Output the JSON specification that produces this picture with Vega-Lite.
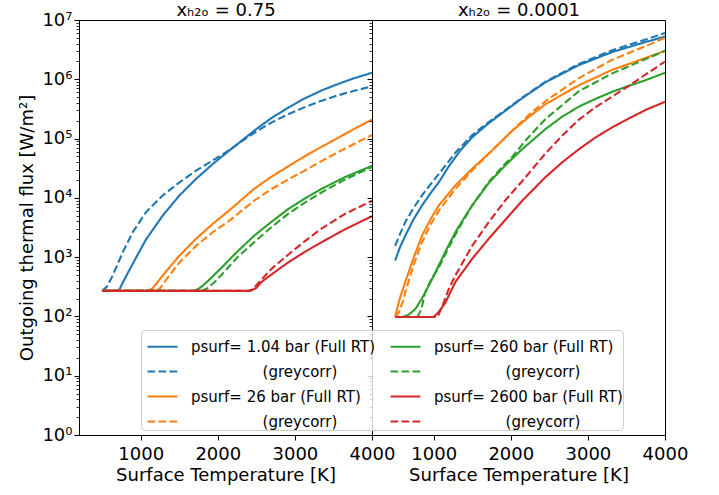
{
  "$schema": "https://vega.github.io/schema/vega-lite/v6.json",
  "padding": {"left": 18, "top": 0, "right": 5, "bottom": 5},
  "spacing": 0,
  "bounds": "flush",
  "config": {
    "font": "DejaVu Sans",
    "view": {"stroke": "black", "strokeWidth": 1},
    "axis": {"grid": false, "domainColor": "black", "tickColor": "black", "labelColor": "black", "titleColor": "black", "labelFontSize": 18, "titleFontSize": 18, "titleFontWeight": "normal", "labelFlush": false, "labelOverlap": false}
  },
  "data": {"values": [
    {"p":"A","s":"b1","T":500,"F":270},{"p":"A","s":"b1","T":680,"F":270},{"p":"A","s":"b1","T":700,"F":272},{"p":"A","s":"b1","T":724,"F":282},{"p":"A","s":"b1","T":767,"F":372},{"p":"A","s":"b1","T":853,"F":603},{"p":"A","s":"b1","T":960,"F":1096},{"p":"A","s":"b1","T":1070,"F":1995},{"p":"A","s":"b1","T":1285,"F":5012},{"p":"A","s":"b1","T":1502,"F":10965},{"p":"A","s":"b1","T":1718,"F":20893},{"p":"A","s":"b1","T":1934,"F":37154},{"p":"A","s":"b1","T":2150,"F":63096},{"p":"A","s":"b1","T":2306,"F":91201},{"p":"A","s":"b1","T":2479,"F":138038},{"p":"A","s":"b1","T":2700,"F":223872},{"p":"A","s":"b1","T":2912,"F":331131},{"p":"A","s":"b1","T":3084,"F":446684},{"p":"A","s":"b1","T":3344,"F":645654},{"p":"A","s":"b1","T":3517,"F":794328},{"p":"A","s":"b1","T":3750,"F":1023293},{"p":"A","s":"b1","T":4000,"F":1288250},
    {"p":"A","s":"b2","T":500,"F":270},{"p":"A","s":"b2","T":560,"F":316},{"p":"A","s":"b2","T":637,"F":490},{"p":"A","s":"b2","T":767,"F":1202},{"p":"A","s":"b2","T":896,"F":2630},{"p":"A","s":"b2","T":1070,"F":5754},{"p":"A","s":"b2","T":1285,"F":10965},{"p":"A","s":"b2","T":1502,"F":18197},{"p":"A","s":"b2","T":1718,"F":28840},{"p":"A","s":"b2","T":1934,"F":42658},{"p":"A","s":"b2","T":2108,"F":58884},{"p":"A","s":"b2","T":2306,"F":89125},{"p":"A","s":"b2","T":2500,"F":131826},{"p":"A","s":"b2","T":2695,"F":186209},{"p":"A","s":"b2","T":2912,"F":257040},{"p":"A","s":"b2","T":3127,"F":338844},{"p":"A","s":"b2","T":3350,"F":436516},{"p":"A","s":"b2","T":3560,"F":537032},{"p":"A","s":"b2","T":3780,"F":645654},{"p":"A","s":"b2","T":4000,"F":758578},
    {"p":"A","s":"o1","T":500,"F":270},{"p":"A","s":"o1","T":1100,"F":270},{"p":"A","s":"o1","T":1156,"F":299},{"p":"A","s":"o1","T":1220,"F":380},{"p":"A","s":"o1","T":1285,"F":490},{"p":"A","s":"o1","T":1502,"F":1059},{"p":"A","s":"o1","T":1718,"F":2042},{"p":"A","s":"o1","T":1934,"F":3631},{"p":"A","s":"o1","T":2150,"F":6166},{"p":"A","s":"o1","T":2479,"F":14454},{"p":"A","s":"o1","T":2700,"F":22909},{"p":"A","s":"o1","T":2912,"F":33884},{"p":"A","s":"o1","T":3100,"F":47863},{"p":"A","s":"o1","T":3300,"F":67608},{"p":"A","s":"o1","T":3517,"F":95499},{"p":"A","s":"o1","T":3750,"F":141254},{"p":"A","s":"o1","T":4000,"F":208930},
    {"p":"A","s":"o2","T":500,"F":270},{"p":"A","s":"o2","T":1200,"F":270},{"p":"A","s":"o2","T":1242,"F":288},{"p":"A","s":"o2","T":1300,"F":363},{"p":"A","s":"o2","T":1372,"F":490},{"p":"A","s":"o2","T":1502,"F":813},{"p":"A","s":"o2","T":1718,"F":1549},{"p":"A","s":"o2","T":1934,"F":2630},{"p":"A","s":"o2","T":2150,"F":4121},{"p":"A","s":"o2","T":2479,"F":9120},{"p":"A","s":"o2","T":2700,"F":14125},{"p":"A","s":"o2","T":2912,"F":20417},{"p":"A","s":"o2","T":3127,"F":28840},{"p":"A","s":"o2","T":3344,"F":41687},{"p":"A","s":"o2","T":3603,"F":63096},{"p":"A","s":"o2","T":3800,"F":85114},{"p":"A","s":"o2","T":4000,"F":114815},
    {"p":"A","s":"g1","T":500,"F":270},{"p":"A","s":"g1","T":1690,"F":270},{"p":"A","s":"g1","T":1760,"F":295},{"p":"A","s":"g1","T":1874,"F":398},{"p":"A","s":"g1","T":2047,"F":661},{"p":"A","s":"g1","T":2250,"F":1230},{"p":"A","s":"g1","T":2479,"F":2344},{"p":"A","s":"g1","T":2700,"F":3981},{"p":"A","s":"g1","T":2912,"F":6457},{"p":"A","s":"g1","T":3130,"F":9772},{"p":"A","s":"g1","T":3344,"F":14125},{"p":"A","s":"g1","T":3650,"F":22387},{"p":"A","s":"g1","T":4000,"F":34674},
    {"p":"A","s":"g2","T":500,"F":270},{"p":"A","s":"g2","T":1787,"F":270},{"p":"A","s":"g2","T":1860,"F":295},{"p":"A","s":"g2","T":1960,"F":380},{"p":"A","s":"g2","T":2047,"F":501},{"p":"A","s":"g2","T":2250,"F":977},{"p":"A","s":"g2","T":2479,"F":1820},{"p":"A","s":"g2","T":2700,"F":3236},{"p":"A","s":"g2","T":2912,"F":5370},{"p":"A","s":"g2","T":3130,"F":8318},{"p":"A","s":"g2","T":3344,"F":12303},{"p":"A","s":"g2","T":3650,"F":20417},{"p":"A","s":"g2","T":4000,"F":33113},
    {"p":"A","s":"r1","T":500,"F":270},{"p":"A","s":"r1","T":2420,"F":270},{"p":"A","s":"r1","T":2500,"F":302},{"p":"A","s":"r1","T":2565,"F":380},{"p":"A","s":"r1","T":2740,"F":562},{"p":"A","s":"r1","T":2912,"F":813},{"p":"A","s":"r1","T":3130,"F":1230},{"p":"A","s":"r1","T":3344,"F":1778},{"p":"A","s":"r1","T":3650,"F":2951},{"p":"A","s":"r1","T":4000,"F":4898},
    {"p":"A","s":"r2","T":500,"F":270},{"p":"A","s":"r2","T":2400,"F":270},{"p":"A","s":"r2","T":2460,"F":288},{"p":"A","s":"r2","T":2522,"F":363},{"p":"A","s":"r2","T":2695,"F":631},{"p":"A","s":"r2","T":2912,"F":1096},{"p":"A","s":"r2","T":3130,"F":1862},{"p":"A","s":"r2","T":3344,"F":3020},{"p":"A","s":"r2","T":3650,"F":5370},{"p":"A","s":"r2","T":4000,"F":8913},
    {"p":"B","s":"b1","T":500,"F":871},{"p":"B","s":"b1","T":560,"F":1445},{"p":"B","s":"b1","T":631,"F":2291},{"p":"B","s":"b1","T":740,"F":4365},{"p":"B","s":"b1","T":848,"F":7413},{"p":"B","s":"b1","T":960,"F":12023},{"p":"B","s":"b1","T":1065,"F":18197},{"p":"B","s":"b1","T":1195,"F":33884},{"p":"B","s":"b1","T":1346,"F":63096},{"p":"B","s":"b1","T":1498,"F":104713},{"p":"B","s":"b1","T":1714,"F":181970},{"p":"B","s":"b1","T":1930,"F":295121},{"p":"B","s":"b1","T":2147,"F":478630},{"p":"B","s":"b1","T":2450,"F":891251},{"p":"B","s":"b1","T":2884,"F":1737801},{"p":"B","s":"b1","T":3316,"F":2884032},{"p":"B","s":"b1","T":3749,"F":4265795},{"p":"B","s":"b1","T":4000,"F":5248075},
    {"p":"B","s":"b2","T":500,"F":1549},{"p":"B","s":"b2","T":560,"F":2399},{"p":"B","s":"b2","T":631,"F":3890},{"p":"B","s":"b2","T":740,"F":6761},{"p":"B","s":"b2","T":848,"F":10965},{"p":"B","s":"b2","T":960,"F":16982},{"p":"B","s":"b2","T":1065,"F":25119},{"p":"B","s":"b2","T":1281,"F":57544},{"p":"B","s":"b2","T":1500,"F":114815},{"p":"B","s":"b2","T":1714,"F":190546},{"p":"B","s":"b2","T":1930,"F":301995},{"p":"B","s":"b2","T":2147,"F":489779},{"p":"B","s":"b2","T":2450,"F":912011},{"p":"B","s":"b2","T":2884,"F":1819701},{"p":"B","s":"b2","T":3316,"F":3090295},{"p":"B","s":"b2","T":3749,"F":4677351},{"p":"B","s":"b2","T":4000,"F":6025596},
    {"p":"B","s":"o1","T":500,"F":100},{"p":"B","s":"o1","T":560,"F":200},{"p":"B","s":"o1","T":631,"F":380},{"p":"B","s":"o1","T":740,"F":977},{"p":"B","s":"o1","T":848,"F":2291},{"p":"B","s":"o1","T":960,"F":4365},{"p":"B","s":"o1","T":1065,"F":7413},{"p":"B","s":"o1","T":1281,"F":16218},{"p":"B","s":"o1","T":1498,"F":30903},{"p":"B","s":"o1","T":1757,"F":63096},{"p":"B","s":"o1","T":2017,"F":134896},{"p":"B","s":"o1","T":2250,"F":239883},{"p":"B","s":"o1","T":2450,"F":380189},{"p":"B","s":"o1","T":2884,"F":794328},{"p":"B","s":"o1","T":3316,"F":1445440},{"p":"B","s":"o1","T":3749,"F":2290868},{"p":"B","s":"o1","T":4000,"F":3019952},
    {"p":"B","s":"o2","T":500,"F":100},{"p":"B","s":"o2","T":545,"F":115},{"p":"B","s":"o2","T":600,"F":178},{"p":"B","s":"o2","T":631,"F":257},{"p":"B","s":"o2","T":740,"F":741},{"p":"B","s":"o2","T":848,"F":1778},{"p":"B","s":"o2","T":960,"F":3548},{"p":"B","s":"o2","T":1065,"F":6026},{"p":"B","s":"o2","T":1281,"F":14125},{"p":"B","s":"o2","T":1498,"F":28840},{"p":"B","s":"o2","T":1757,"F":63096},{"p":"B","s":"o2","T":2017,"F":134896},{"p":"B","s":"o2","T":2250,"F":263027},{"p":"B","s":"o2","T":2450,"F":426580},{"p":"B","s":"o2","T":2884,"F":1047129},{"p":"B","s":"o2","T":3316,"F":2137962},{"p":"B","s":"o2","T":3749,"F":3630781},{"p":"B","s":"o2","T":4000,"F":5011872},
    {"p":"B","s":"g1","T":500,"F":98},{"p":"B","s":"g1","T":600,"F":98},{"p":"B","s":"g1","T":675,"F":107},{"p":"B","s":"g1","T":760,"F":132},{"p":"B","s":"g1","T":848,"F":200},{"p":"B","s":"g1","T":960,"F":380},{"p":"B","s":"g1","T":1065,"F":724},{"p":"B","s":"g1","T":1170,"F":1380},{"p":"B","s":"g1","T":1281,"F":2630},{"p":"B","s":"g1","T":1390,"F":4467},{"p":"B","s":"g1","T":1498,"F":7413},{"p":"B","s":"g1","T":1714,"F":17783},{"p":"B","s":"g1","T":1930,"F":35481},{"p":"B","s":"g1","T":2147,"F":66069},{"p":"B","s":"g1","T":2450,"F":144544},{"p":"B","s":"g1","T":2667,"F":234423},{"p":"B","s":"g1","T":2884,"F":346737},{"p":"B","s":"g1","T":3100,"F":467735},{"p":"B","s":"g1","T":3316,"F":616595},{"p":"B","s":"g1","T":3533,"F":776247},{"p":"B","s":"g1","T":3749,"F":966051},{"p":"B","s":"g1","T":4000,"F":1288250},
    {"p":"B","s":"g2","T":500,"F":98},{"p":"B","s":"g2","T":790,"F":98},{"p":"B","s":"g2","T":840,"F":132},{"p":"B","s":"g2","T":891,"F":257},{"p":"B","s":"g2","T":960,"F":398},{"p":"B","s":"g2","T":1065,"F":661},{"p":"B","s":"g2","T":1170,"F":1259},{"p":"B","s":"g2","T":1281,"F":2399},{"p":"B","s":"g2","T":1390,"F":4266},{"p":"B","s":"g2","T":1498,"F":7413},{"p":"B","s":"g2","T":1714,"F":18621},{"p":"B","s":"g2","T":1930,"F":38019},{"p":"B","s":"g2","T":2017,"F":48978},{"p":"B","s":"g2","T":2200,"F":95499},{"p":"B","s":"g2","T":2450,"F":213796},{"p":"B","s":"g2","T":2884,"F":630957},{"p":"B","s":"g2","T":3316,"F":1258925},{"p":"B","s":"g2","T":3749,"F":2187762},{"p":"B","s":"g2","T":4000,"F":3019952},
    {"p":"B","s":"r1","T":500,"F":98},{"p":"B","s":"r1","T":1000,"F":98},{"p":"B","s":"r1","T":1060,"F":117},{"p":"B","s":"r1","T":1151,"F":170},{"p":"B","s":"r1","T":1281,"F":380},{"p":"B","s":"r1","T":1498,"F":933},{"p":"B","s":"r1","T":1714,"F":2042},{"p":"B","s":"r1","T":1930,"F":4266},{"p":"B","s":"r1","T":2147,"F":8913},{"p":"B","s":"r1","T":2450,"F":22387},{"p":"B","s":"r1","T":2667,"F":39811},{"p":"B","s":"r1","T":2884,"F":66069},{"p":"B","s":"r1","T":3100,"F":104713},{"p":"B","s":"r1","T":3316,"F":154882},{"p":"B","s":"r1","T":3533,"F":218776},{"p":"B","s":"r1","T":3760,"F":309030},{"p":"B","s":"r1","T":4000,"F":416869},
    {"p":"B","s":"r2","T":500,"F":98},{"p":"B","s":"r2","T":1050,"F":98},{"p":"B","s":"r2","T":1120,"F":158},{"p":"B","s":"r2","T":1195,"F":288},{"p":"B","s":"r2","T":1281,"F":490},{"p":"B","s":"r2","T":1498,"F":1549},{"p":"B","s":"r2","T":1714,"F":3890},{"p":"B","s":"r2","T":1930,"F":9120},{"p":"B","s":"r2","T":2147,"F":19055},{"p":"B","s":"r2","T":2450,"F":56234},{"p":"B","s":"r2","T":2667,"F":112202},{"p":"B","s":"r2","T":2884,"F":208930},{"p":"B","s":"r2","T":3100,"F":338844},{"p":"B","s":"r2","T":3316,"F":512861},{"p":"B","s":"r2","T":3533,"F":776247},{"p":"B","s":"r2","T":3760,"F":1230269},{"p":"B","s":"r2","T":4000,"F":1995262}
  ]},
  "hconcat": [
    {
      "width": 293, "height": 415,
      "transform": [{"filter": "datum.p == 'A'"}],
      "layer": [
        {
          "mark": {"type": "line", "strokeWidth": 2.1, "clip": true},
          "encoding": {
            "x": {"field": "T", "type": "quantitative", "scale": {"domain": [200, 4000], "nice": false, "zero": false},
                  "axis": {"title": "Surface Temperature [K]", "values": [1000, 2000, 3000, 4000], "format": "d", "tickSize": 5, "labelPadding": 5, "titlePadding": 3}},
            "y": {"field": "F", "type": "quantitative", "scale": {"type": "log", "domain": [1, 10000000], "nice": false},
                  "axis": {"title": "Outgoing thermal flux [W/m²]", "titlePadding": 5, "labelPadding": 2,
                           "values": [1,2,3,4,5,6,7,8,9,10,20,30,40,50,60,70,80,90,100,200,300,400,500,600,700,800,900,1000,2000,3000,4000,5000,6000,7000,8000,9000,10000,20000,30000,40000,50000,60000,70000,80000,90000,100000,200000,300000,400000,500000,600000,700000,800000,900000,1000000,2000000,3000000,4000000,5000000,6000000,7000000,8000000,9000000,10000000],
                           "labelExpr": "abs(log(datum.value)/LN10 - round(log(datum.value)/LN10)) < 0.001 ? '10' + ['⁰','¹','²','³','⁴','⁵','⁶','⁷'][round(log(datum.value)/LN10)] : ''",
                           "tickSize": {"condition": {"test": "abs(log(datum.value)/LN10 - round(log(datum.value)/LN10)) < 0.001", "value": 5}, "value": 3},
                           "tickWidth": {"condition": {"test": "abs(log(datum.value)/LN10 - round(log(datum.value)/LN10)) < 0.001", "value": 1.1}, "value": 0.8}}},
            "color": {"field": "s", "type": "nominal",
                      "scale": {"domain": ["b1","b2","o1","o2","g1","g2","r1","r2"], "range": ["#1f77b4","#1f77b4","#ff7f0e","#ff7f0e","#2ca02c","#2ca02c","#d62728","#d62728"]},
                      "legend": {"title": null, "orient": "none", "legendX": 62, "legendY": 310, "columns": 2, "symbolType": "stroke", "symbolSize": 900, "symbolStrokeWidth": 2.1, "symbolOffset": 5, "labelFontSize": 15, "labelLimit": 0, "labelOffset": 12, "padding": 0, "rowPadding": -7, "columnPadding": 8, "fillColor": "rgba(255,255,255,0.8)", "strokeColor": "#cccccc", "cornerRadius": 4,
                                 "labelExpr": "datum.value == 'b1' ? 'psurf= 1.04 bar (Full RT)' : datum.value == 'g1' ? 'psurf= 260 bar (Full RT)' : datum.value == 'o1' ? 'psurf= 26 bar (Full RT)' : datum.value == 'r1' ? 'psurf= 2600 bar (Full RT)' : '\u200b\u2007\u2007\u2007\u2007\u2007\u2007\u2007\u00a0(greycorr)'"}},
            "strokeDash": {"field": "s", "type": "nominal",
                      "scale": {"domain": ["b1","b2","o1","o2","g1","g2","r1","r2"], "range": [[1,0],[7.7,3.3],[1,0],[7.7,3.3],[1,0],[7.7,3.3],[1,0],[7.7,3.3]]},
                      "legend": {"title": null, "orient": "none", "legendX": 62, "legendY": 310, "columns": 2, "symbolType": "stroke", "symbolSize": 900, "symbolStrokeWidth": 2.1, "symbolOffset": 5, "labelFontSize": 15, "labelLimit": 0, "labelOffset": 12, "padding": 0, "rowPadding": -7, "columnPadding": 8, "fillColor": "rgba(255,255,255,0.8)", "strokeColor": "#cccccc", "cornerRadius": 4,
                                 "labelExpr": "datum.value == 'b1' ? 'psurf= 1.04 bar (Full RT)' : datum.value == 'g1' ? 'psurf= 260 bar (Full RT)' : datum.value == 'o1' ? 'psurf= 26 bar (Full RT)' : datum.value == 'r1' ? 'psurf= 2600 bar (Full RT)' : '\u200b\u2007\u2007\u2007\u2007\u2007\u2007\u2007\u00a0(greycorr)'"}}
          }
        },
        {
          "mark": {"type": "rule", "opacity": 0},
          "encoding": {
            "x": {"field": "T", "type": "quantitative", "scale": {"domain": [200, 4000], "nice": false, "zero": false},
                  "axis": {"orient": "top", "title": "xₕ₂ₒ =  0.75", "labels": false, "ticks": false, "domain": false, "titlePadding": 1}}
          }
        }
      ],
      "resolve": {"axis": {"x": "independent"}}
    },
    {
      "width": 293, "height": 415,
      "transform": [{"filter": "datum.p == 'B'"}],
      "layer": [
        {
          "mark": {"type": "line", "strokeWidth": 2.1, "clip": true},
          "encoding": {
            "x": {"field": "T", "type": "quantitative", "scale": {"domain": [200, 4000], "nice": false, "zero": false},
                  "axis": {"title": "Surface Temperature [K]", "values": [1000, 2000, 3000, 4000], "format": "d", "tickSize": 5, "labelPadding": 5, "titlePadding": 3}},
            "y": {"field": "F", "type": "quantitative", "scale": {"type": "log", "domain": [1, 10000000], "nice": false},
                  "axis": {"title": null, "labels": false,
                           "values": [1,2,3,4,5,6,7,8,9,10,20,30,40,50,60,70,80,90,100,200,300,400,500,600,700,800,900,1000,2000,3000,4000,5000,6000,7000,8000,9000,10000,20000,30000,40000,50000,60000,70000,80000,90000,100000,200000,300000,400000,500000,600000,700000,800000,900000,1000000,2000000,3000000,4000000,5000000,6000000,7000000,8000000,9000000,10000000],
                           "tickSize": {"condition": {"test": "abs(log(datum.value)/LN10 - round(log(datum.value)/LN10)) < 0.001", "value": 5}, "value": 3},
                           "tickWidth": {"condition": {"test": "abs(log(datum.value)/LN10 - round(log(datum.value)/LN10)) < 0.001", "value": 1.1}, "value": 0.8}}},
            "color": {"field": "s", "type": "nominal",
                      "scale": {"domain": ["b1","b2","o1","o2","g1","g2","r1","r2"], "range": ["#1f77b4","#1f77b4","#ff7f0e","#ff7f0e","#2ca02c","#2ca02c","#d62728","#d62728"]},
                      "legend": {"title": null, "orient": "none", "legendX": 62, "legendY": 310, "columns": 2, "symbolType": "stroke", "symbolSize": 900, "symbolStrokeWidth": 2.1, "symbolOffset": 5, "labelFontSize": 15, "labelLimit": 0, "labelOffset": 12, "padding": 0, "rowPadding": -7, "columnPadding": 8, "fillColor": "rgba(255,255,255,0.8)", "strokeColor": "#cccccc", "cornerRadius": 4,
                                 "labelExpr": "datum.value == 'b1' ? 'psurf= 1.04 bar (Full RT)' : datum.value == 'g1' ? 'psurf= 260 bar (Full RT)' : datum.value == 'o1' ? 'psurf= 26 bar (Full RT)' : datum.value == 'r1' ? 'psurf= 2600 bar (Full RT)' : '\u200b\u2007\u2007\u2007\u2007\u2007\u2007\u2007\u00a0(greycorr)'"}},
            "strokeDash": {"field": "s", "type": "nominal",
                      "scale": {"domain": ["b1","b2","o1","o2","g1","g2","r1","r2"], "range": [[1,0],[7.7,3.3],[1,0],[7.7,3.3],[1,0],[7.7,3.3],[1,0],[7.7,3.3]]},
                      "legend": {"title": null, "orient": "none", "legendX": 62, "legendY": 310, "columns": 2, "symbolType": "stroke", "symbolSize": 900, "symbolStrokeWidth": 2.1, "symbolOffset": 5, "labelFontSize": 15, "labelLimit": 0, "labelOffset": 12, "padding": 0, "rowPadding": -7, "columnPadding": 8, "fillColor": "rgba(255,255,255,0.8)", "strokeColor": "#cccccc", "cornerRadius": 4,
                                 "labelExpr": "datum.value == 'b1' ? 'psurf= 1.04 bar (Full RT)' : datum.value == 'g1' ? 'psurf= 260 bar (Full RT)' : datum.value == 'o1' ? 'psurf= 26 bar (Full RT)' : datum.value == 'r1' ? 'psurf= 2600 bar (Full RT)' : '\u200b\u2007\u2007\u2007\u2007\u2007\u2007\u2007\u00a0(greycorr)'"}}
          }
        },
        {
          "mark": {"type": "rule", "opacity": 0},
          "encoding": {
            "x": {"field": "T", "type": "quantitative", "scale": {"domain": [200, 4000], "nice": false, "zero": false},
                  "axis": {"orient": "top", "title": "xₕ₂ₒ =  0.0001", "labels": false, "ticks": false, "domain": false, "titlePadding": 1}}
          }
        }
      ],
      "resolve": {"axis": {"x": "independent"}}
    }
  ],
  "resolve": {"scale": {"color": "shared", "strokeDash": "shared"}, "legend": {"color": "shared", "strokeDash": "shared"}}
}
